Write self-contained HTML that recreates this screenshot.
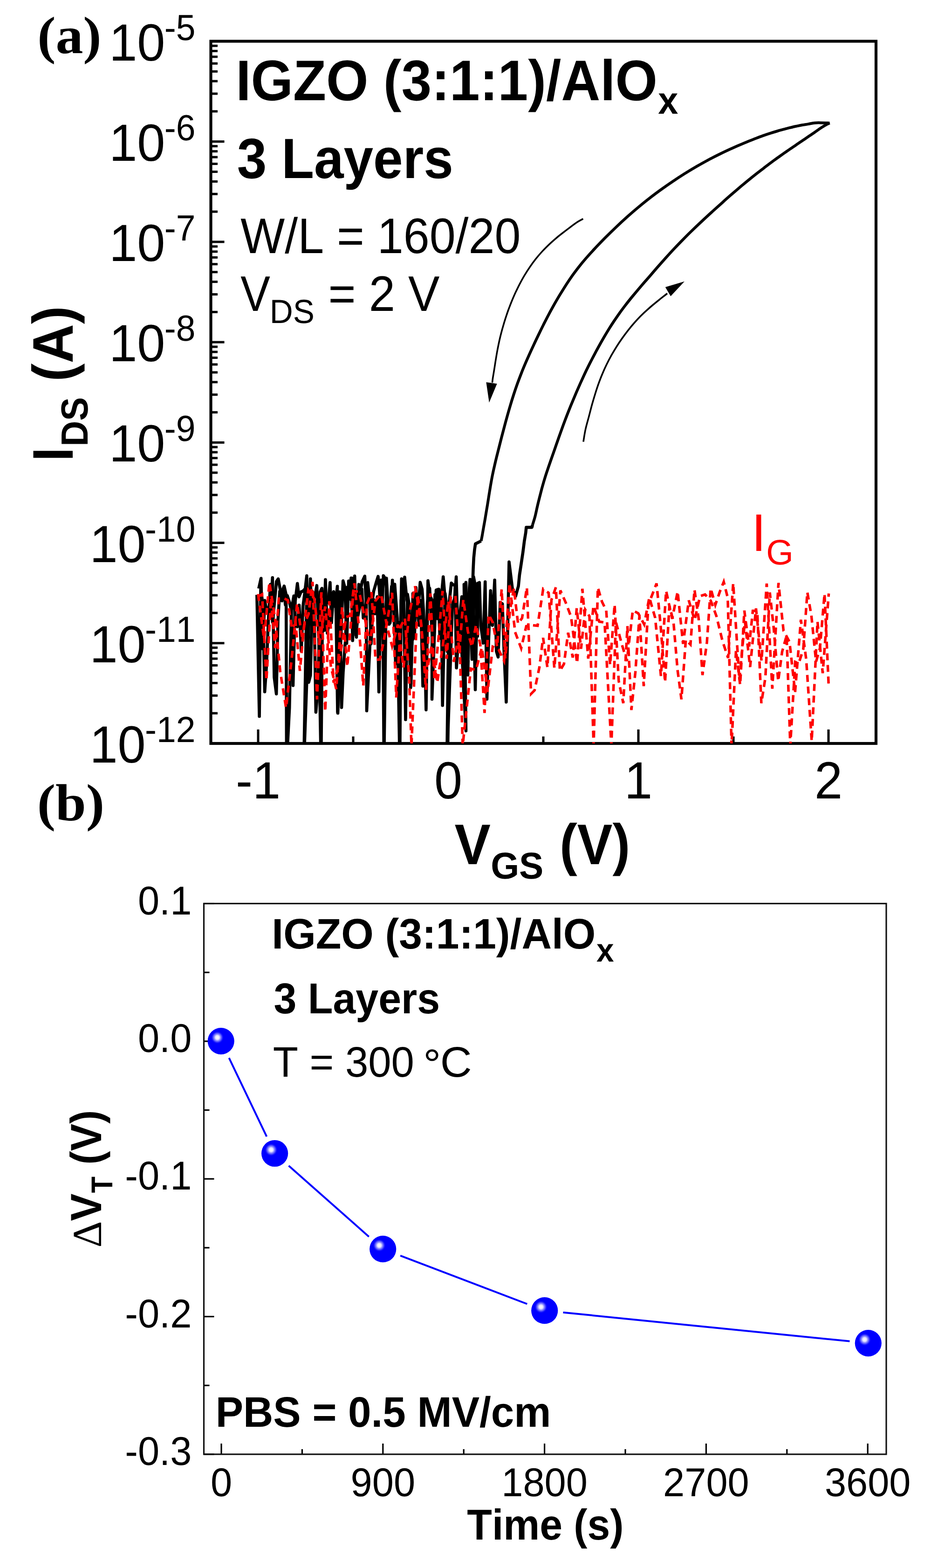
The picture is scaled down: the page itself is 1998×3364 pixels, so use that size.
<!DOCTYPE html><html><head><meta charset="utf-8"><title>IGZO/AlOx TFT transfer and PBS</title><style>html,body{margin:0;padding:0;background:#fff;overflow:hidden}svg{display:block}</style></head><body><svg width="1998" height="3364" viewBox="0 0 1998 3364" style="font-kerning:none;text-rendering:geometricPrecision"><g stroke="#000" stroke-width="5.0" stroke-linecap="butt"><line x1="452.5" y1="1595.0" x2="481.5" y2="1595.0"/><line x1="452.5" y1="1530.2" x2="467.0" y2="1530.2"/><line x1="452.5" y1="1492.3" x2="467.0" y2="1492.3"/><line x1="452.5" y1="1465.4" x2="467.0" y2="1465.4"/><line x1="452.5" y1="1444.6" x2="467.0" y2="1444.6"/><line x1="452.5" y1="1427.5" x2="467.0" y2="1427.5"/><line x1="452.5" y1="1413.1" x2="467.0" y2="1413.1"/><line x1="452.5" y1="1400.6" x2="467.0" y2="1400.6"/><line x1="452.5" y1="1389.6" x2="467.0" y2="1389.6"/><line x1="452.5" y1="1379.8" x2="481.5" y2="1379.8"/><line x1="452.5" y1="1315.0" x2="467.0" y2="1315.0"/><line x1="452.5" y1="1277.1" x2="467.0" y2="1277.1"/><line x1="452.5" y1="1250.2" x2="467.0" y2="1250.2"/><line x1="452.5" y1="1229.4" x2="467.0" y2="1229.4"/><line x1="452.5" y1="1212.3" x2="467.0" y2="1212.3"/><line x1="452.5" y1="1197.9" x2="467.0" y2="1197.9"/><line x1="452.5" y1="1185.4" x2="467.0" y2="1185.4"/><line x1="452.5" y1="1174.4" x2="467.0" y2="1174.4"/><line x1="452.5" y1="1164.6" x2="481.5" y2="1164.6"/><line x1="452.5" y1="1099.8" x2="467.0" y2="1099.8"/><line x1="452.5" y1="1061.9" x2="467.0" y2="1061.9"/><line x1="452.5" y1="1035.0" x2="467.0" y2="1035.0"/><line x1="452.5" y1="1014.1" x2="467.0" y2="1014.1"/><line x1="452.5" y1="997.1" x2="467.0" y2="997.1"/><line x1="452.5" y1="982.7" x2="467.0" y2="982.7"/><line x1="452.5" y1="970.2" x2="467.0" y2="970.2"/><line x1="452.5" y1="959.2" x2="467.0" y2="959.2"/><line x1="452.5" y1="949.4" x2="481.5" y2="949.4"/><line x1="452.5" y1="884.6" x2="467.0" y2="884.6"/><line x1="452.5" y1="846.7" x2="467.0" y2="846.7"/><line x1="452.5" y1="819.8" x2="467.0" y2="819.8"/><line x1="452.5" y1="798.9" x2="467.0" y2="798.9"/><line x1="452.5" y1="781.9" x2="467.0" y2="781.9"/><line x1="452.5" y1="767.5" x2="467.0" y2="767.5"/><line x1="452.5" y1="755.0" x2="467.0" y2="755.0"/><line x1="452.5" y1="744.0" x2="467.0" y2="744.0"/><line x1="452.5" y1="734.1" x2="481.5" y2="734.1"/><line x1="452.5" y1="669.4" x2="467.0" y2="669.4"/><line x1="452.5" y1="631.5" x2="467.0" y2="631.5"/><line x1="452.5" y1="604.6" x2="467.0" y2="604.6"/><line x1="452.5" y1="583.7" x2="467.0" y2="583.7"/><line x1="452.5" y1="566.7" x2="467.0" y2="566.7"/><line x1="452.5" y1="552.3" x2="467.0" y2="552.3"/><line x1="452.5" y1="539.8" x2="467.0" y2="539.8"/><line x1="452.5" y1="528.8" x2="467.0" y2="528.8"/><line x1="452.5" y1="518.9" x2="481.5" y2="518.9"/><line x1="452.5" y1="454.1" x2="467.0" y2="454.1"/><line x1="452.5" y1="416.2" x2="467.0" y2="416.2"/><line x1="452.5" y1="389.4" x2="467.0" y2="389.4"/><line x1="452.5" y1="368.5" x2="467.0" y2="368.5"/><line x1="452.5" y1="351.5" x2="467.0" y2="351.5"/><line x1="452.5" y1="337.1" x2="467.0" y2="337.1"/><line x1="452.5" y1="324.6" x2="467.0" y2="324.6"/><line x1="452.5" y1="313.6" x2="467.0" y2="313.6"/><line x1="452.5" y1="303.7" x2="481.5" y2="303.7"/><line x1="452.5" y1="238.9" x2="467.0" y2="238.9"/><line x1="452.5" y1="201.0" x2="467.0" y2="201.0"/><line x1="452.5" y1="174.1" x2="467.0" y2="174.1"/><line x1="452.5" y1="153.3" x2="467.0" y2="153.3"/><line x1="452.5" y1="136.2" x2="467.0" y2="136.2"/><line x1="452.5" y1="121.8" x2="467.0" y2="121.8"/><line x1="452.5" y1="109.4" x2="467.0" y2="109.4"/><line x1="452.5" y1="98.3" x2="467.0" y2="98.3"/><line x1="452.5" y1="88.5" x2="481.5" y2="88.5"/><line x1="554.0" y1="1595.0" x2="554.0" y2="1565.0"/><line x1="962.0" y1="1595.0" x2="962.0" y2="1565.0"/><line x1="1370.0" y1="1595.0" x2="1370.0" y2="1565.0"/><line x1="1778.0" y1="1595.0" x2="1778.0" y2="1565.0"/><line x1="758.0" y1="1595.0" x2="758.0" y2="1580.0"/><line x1="1166.0" y1="1595.0" x2="1166.0" y2="1580.0"/><line x1="1574.0" y1="1595.0" x2="1574.0" y2="1580.0"/></g><text transform="translate(311.10 1592.00) scale(1 1.0412)" font-family='"Liberation Sans", Arial, sans-serif' font-size="75.0">-12</text><text transform="translate(192.47 1636.00) scale(1 1.0412)" font-family='"Liberation Sans", Arial, sans-serif' font-size="108.0">10</text><text transform="translate(311.10 1376.79) scale(1 1.0412)" font-family='"Liberation Sans", Arial, sans-serif' font-size="75.0">-11</text><text transform="translate(192.47 1420.79) scale(1 1.0412)" font-family='"Liberation Sans", Arial, sans-serif' font-size="108.0">10</text><text transform="translate(311.10 1161.57) scale(1 1.0412)" font-family='"Liberation Sans", Arial, sans-serif' font-size="75.0">-10</text><text transform="translate(192.47 1205.57) scale(1 1.0412)" font-family='"Liberation Sans", Arial, sans-serif' font-size="108.0">10</text><text transform="translate(352.81 946.36) scale(1 1.0412)" font-family='"Liberation Sans", Arial, sans-serif' font-size="75.0">-9</text><text transform="translate(234.18 990.36) scale(1 1.0412)" font-family='"Liberation Sans", Arial, sans-serif' font-size="108.0">10</text><text transform="translate(352.81 731.14) scale(1 1.0412)" font-family='"Liberation Sans", Arial, sans-serif' font-size="75.0">-8</text><text transform="translate(234.18 775.14) scale(1 1.0412)" font-family='"Liberation Sans", Arial, sans-serif' font-size="108.0">10</text><text transform="translate(352.81 515.93) scale(1 1.0412)" font-family='"Liberation Sans", Arial, sans-serif' font-size="75.0">-7</text><text transform="translate(234.18 559.93) scale(1 1.0412)" font-family='"Liberation Sans", Arial, sans-serif' font-size="108.0">10</text><text transform="translate(352.81 300.71) scale(1 1.0412)" font-family='"Liberation Sans", Arial, sans-serif' font-size="75.0">-6</text><text transform="translate(234.18 344.71) scale(1 1.0412)" font-family='"Liberation Sans", Arial, sans-serif' font-size="108.0">10</text><text transform="translate(352.81 85.50) scale(1 1.0412)" font-family='"Liberation Sans", Arial, sans-serif' font-size="75.0">-5</text><text transform="translate(234.18 129.50) scale(1 1.0412)" font-family='"Liberation Sans", Arial, sans-serif' font-size="108.0">10</text><text transform="translate(505.98 1712.50) scale(1.0000 1.0412)" font-family='"Liberation Sans", Arial, sans-serif' font-weight="normal" font-size="108.00">-1</text><text transform="translate(931.97 1712.50) scale(1.0000 1.0412)" font-family='"Liberation Sans", Arial, sans-serif' font-weight="normal" font-size="108.00">0</text><text transform="translate(1339.97 1712.50) scale(1.0000 1.0412)" font-family='"Liberation Sans", Arial, sans-serif' font-weight="normal" font-size="108.00">1</text><text transform="translate(1747.97 1712.50) scale(1.0000 1.0412)" font-family='"Liberation Sans", Arial, sans-serif' font-weight="normal" font-size="108.00">2</text><rect x="452.5" y="88.5" width="1427.5" height="1506.5" fill="none" stroke="#000" stroke-width="6.2"/><text transform="translate(80.19 114.02) scale(1.0426 0.9990)" font-family='"Liberation Serif", "Times New Roman", serif' font-weight="bold" font-size="113.00">(a)</text><text transform="translate(506.21 214.50) scale(0.9858 1.0412)" font-family='"Liberation Sans", Arial, sans-serif' font-weight="bold" font-size="118.00">IGZO (3:1:1)/AlO</text><text transform="translate(1412.26 243.50) scale(0.9812 1.0412)" font-family='"Liberation Sans", Arial, sans-serif' font-weight="bold" font-size="79.00">x</text><text transform="translate(508.81 381.50) scale(0.9770 1.0412)" font-family='"Liberation Sans", Arial, sans-serif' font-weight="bold" font-size="117.00">3 Layers</text><text transform="translate(516.31 542.80) scale(0.9766 1.0412)" font-family='"Liberation Sans", Arial, sans-serif' font-weight="normal" font-size="103.00">W/L = 160/20</text><text transform="translate(516.34 666.70) scale(0.9255 1.0412)" font-family='"Liberation Sans", Arial, sans-serif' font-weight="normal" font-size="103.00">V</text><text transform="translate(578.73 693.00) scale(1.0029 1.0412)" font-family='"Liberation Sans", Arial, sans-serif' font-weight="normal" font-size="69.00">DS</text><text transform="translate(704.59 666.70) scale(0.9811 1.0412)" font-family='"Liberation Sans", Arial, sans-serif' font-weight="normal" font-size="103.00">= 2 V</text><text transform="translate(1613.05 1181.50) scale(1.0146 1.0412)" font-family='"Liberation Sans", Arial, sans-serif' font-weight="normal" font-size="109.00" fill="#ff0000">I</text><text transform="translate(1644.13 1210.50) scale(1.0316 1.0412)" font-family='"Liberation Sans", Arial, sans-serif' font-weight="normal" font-size="73.00" fill="#ff0000">G</text><text transform="translate(975.56 1853.50) scale(0.9831 1.0412)" font-family='"Liberation Sans", Arial, sans-serif' font-weight="bold" font-size="118.00">V</text><text transform="translate(1053.19 1884.50) scale(1.0171 1.0412)" font-family='"Liberation Sans", Arial, sans-serif' font-weight="bold" font-size="77.00">GS</text><text transform="translate(1200.93 1853.50) scale(0.9622 1.0412)" font-family='"Liberation Sans", Arial, sans-serif' font-weight="bold" font-size="118.00">(V)</text><g transform="rotate(-90)"><text transform="translate(-989.31 155.50) scale(0.8882 1.0412)" font-family='"Liberation Sans", Arial, sans-serif' font-weight="bold" font-size="118.00">I</text><text transform="translate(-957.61 187.50) scale(0.9730 1.0412)" font-family='"Liberation Sans", Arial, sans-serif' font-weight="bold" font-size="78.00">DS</text><text transform="translate(-818.44 155.50) scale(0.9895 1.0412)" font-family='"Liberation Sans", Arial, sans-serif' font-weight="bold" font-size="118.00">(A)</text></g><defs><clipPath id="ca"><rect x="452.5" y="88.5" width="1427.5" height="1506.5"/></clipPath></defs><g clip-path="url(#ca)"><path d="M1780.5,264.0 C1777.4,263.9 1767.1,263.4 1761.7,263.4 C1756.3,263.3 1752.7,263.2 1748.2,263.7 C1743.7,264.2 1739.2,265.3 1734.8,266.1 C1730.3,266.9 1725.8,267.5 1721.3,268.3 C1716.8,269.1 1712.3,270.1 1707.8,271.0 C1703.3,272.0 1698.8,273.1 1694.3,274.2 C1689.8,275.3 1685.4,276.5 1680.9,277.7 C1676.4,278.9 1671.9,280.2 1667.4,281.5 C1662.9,282.8 1658.4,284.2 1653.9,285.7 C1649.4,287.1 1644.9,288.6 1640.3,290.2 C1635.7,291.9 1631.1,293.5 1626.1,295.4 C1621.1,297.3 1616.0,299.2 1610.4,301.5 C1604.7,303.7 1598.8,306.2 1592.2,309.0 C1585.6,311.7 1578.4,314.8 1570.9,318.2 C1563.3,321.7 1555.2,325.4 1546.8,329.5 C1538.5,333.6 1529.7,338.0 1521.0,342.6 C1512.3,347.3 1503.3,352.3 1494.5,357.4 C1485.7,362.5 1476.8,367.9 1468.2,373.3 C1459.7,378.7 1451.3,384.2 1443.1,389.7 C1434.9,395.2 1426.9,400.8 1419.0,406.5 C1411.1,412.2 1403.5,417.8 1395.7,423.9 C1387.8,430.0 1380.0,436.2 1371.9,443.0 C1363.8,449.7 1355.5,456.8 1347.1,464.3 C1338.8,471.7 1330.1,479.7 1321.9,487.6 C1313.6,495.5 1305.2,503.7 1297.5,511.4 C1289.9,519.2 1282.4,526.9 1275.7,534.1 C1269.0,541.2 1263.0,547.9 1257.4,554.4 C1251.8,560.8 1246.9,566.7 1242.1,572.8 C1237.4,578.8 1233.2,584.4 1228.8,590.5 C1224.5,596.6 1220.3,602.8 1216.0,609.3 C1211.8,615.9 1207.5,622.7 1203.2,629.8 C1198.8,636.9 1194.5,644.3 1190.2,651.8 C1186.0,659.3 1181.7,667.0 1177.7,674.6 C1173.6,682.2 1169.7,690.0 1165.9,697.5 C1162.2,704.9 1158.6,712.3 1155.2,719.4 C1151.7,726.6 1148.5,733.4 1145.3,740.2 C1142.2,747.0 1139.2,753.4 1136.2,760.1 C1133.2,766.7 1130.3,773.1 1127.4,779.9 C1124.5,786.7 1121.6,793.6 1118.8,800.8 C1116.0,808.0 1113.1,815.5 1110.4,823.1 C1107.7,830.7 1105.0,838.6 1102.4,846.5 C1099.8,854.5 1097.3,862.6 1095.0,870.5 C1092.6,878.5 1090.3,886.6 1088.1,894.5 C1085.9,902.3 1083.8,910.1 1081.8,917.7 C1079.8,925.3 1077.8,932.7 1076.0,939.8 C1074.2,947.0 1072.4,953.9 1070.7,960.7 C1069.0,967.4 1067.3,974.0 1065.7,980.5 C1064.1,987.0 1062.6,993.3 1061.2,999.6 C1059.7,1005.9 1058.3,1012.1 1057.1,1018.3 C1055.8,1024.5 1054.7,1030.7 1053.6,1036.9 C1052.5,1043.1 1051.5,1049.3 1050.5,1055.6 C1049.4,1061.9 1048.5,1068.2 1047.5,1074.5 C1046.5,1080.8 1045.5,1087.1 1044.4,1093.3 C1043.4,1099.5 1042.3,1105.8 1041.3,1111.9 C1040.3,1117.9 1039.3,1123.3 1038.2,1129.5 C1037.1,1135.6 1035.8,1143.3 1034.9,1148.5 C1034.0,1153.7 1032.9,1158.6 1032.5,1160.6" fill="none" stroke="#000" stroke-width="6.0" stroke-linejoin="round"/><polyline points="1032.5,1160.6 1020.3,1166.7 1018.5,1178.8 1016.7,1197.0 1015.5,1221.3 1014.3,1257.7 1014.3,1273.5 1025.2,1275.9 1024.9,1365.1 1020.4,1258.8 1016.3,1237.4 1012.9,1414.5 1008.8,1243.0 1004.4,1296.6 1000.8,1298.5 995.9,1253.8 1000.0,1568.0 989.0,1358.2 984.6,1354.8 979.6,1433.0 976.5,1255.4 972.3,1254.5 968.6,1250.9 964.1,1291.9 960.3,1398.0 955.2,1284.2 951.2,1237.5 947.9,1272.2 944.2,1369.5 939.7,1264.7 936.0,1265.8 927.0,1500.0 927.5,1288.4 922.9,1278.5 918.4,1245.9 914.4,1522.9 910.4,1339.1 907.5,1471.9 902.9,1288.3 899.3,1341.5 894.4,1297.3 890.0,1323.2 886.1,1273.3 882.0,1467.0 878.1,1297.0 874.5,1275.1 870.4,1543.9 866.5,1286.9 861.8,1241.7 858.1,1410.8 853.4,1334.0 849.0,1424.2 845.0,1302.6 842.2,1244.7 837.1,1336.4 832.8,1299.6 829.3,1240.6 824.0,1640.0 821.7,1302.3 817.8,1244.5 813.1,1484.5 809.7,1280.3 804.5,1316.7 801.2,1285.6 796.4,1381.2 793.4,1287.4 789.1,1249.7 784.5,1302.9 779.6,1325.9 776.6,1264.1 772.9,1297.1 767.9,1322.7 763.6,1362.4 760.6,1266.2 756.2,1240.5 752.1,1285.8 748.2,1246.6 744.1,1380.1 740.4,1261.1 736.2,1246.1 730.8,1390.5 725.0,1530.0 724.0,1257.8 719.3,1301.4 715.9,1269.2 711.7,1291.7 707.5,1325.2 702.5,1358.6 698.4,1243.5 695.4,1345.8 690.8,1262.3 687.2,1269.6 682.5,1470.4 677.9,1527.9 673.8,1282.1 670.3,1351.8 666.2,1241.9 652.0,1640.0 658.4,1271.5 654.3,1263.8 650.0,1268.3 646.1,1269.7 641.6,1280.4 638.2,1251.9 633.6,1289.6 628.9,1470.7 624.7,1307.3 621.6,1293.3 616.6,1277.9 612.5,1297.9 608.6,1260.9 604.9,1289.1 600.3,1268.5 596.5,1331.9 593.1,1488.6 588.5,1453.0 584.8,1239.2 581.3,1298.2 575.8,1304.0 572.8,1313.0 568.1,1288.2 563.8,1391.9 560.2,1240.8 555.3,1262.6" fill="none" stroke="#000" stroke-width="6.6" stroke-linejoin="round"/><polyline points="551.3,1276.2 556.6,1537.0 559.5,1264.5 564.1,1295.2 568.1,1484.3 572.1,1425.8 575.9,1331.2 580.4,1253.8 584.9,1334.7 588.2,1301.5 593.4,1247.3 597.1,1241.9 601.8,1267.2 605.9,1267.9 609.8,1257.3 614.1,1276.3 615.0,1640.0 621.2,1518.5 625.5,1308.4 630.6,1278.6 633.8,1329.3 638.2,1344.6 642.0,1298.2 646.6,1396.6 650.3,1300.1 654.5,1267.7 658.3,1235.3 662.5,1463.9 666.3,1448.7 670.7,1269.4 675.6,1281.5 679.9,1256.2 684.2,1372.4 689.0,1640.0 692.3,1282.7 696.3,1352.4 699.9,1287.3 704.5,1293.0 708.4,1249.9 711.4,1336.1 715.7,1271.3 720.6,1279.2 724.5,1527.6 729.0,1269.8 733.0,1517.9 736.4,1442.5 741.3,1374.0 745.8,1259.9 749.1,1284.9 753.5,1240.0 756.8,1374.3 761.2,1235.8 764.9,1367.2 770.0,1253.9 773.8,1265.3 777.3,1248.0 782.8,1236.1 786.1,1297.9 787.0,1525.0 795.1,1358.1 797.9,1296.9 802.0,1268.1 807.3,1250.0 811.4,1236.6 814.1,1264.3 818.7,1334.4 822.8,1235.1 827.6,1242.8 832.0,1293.6 835.1,1339.3 840.3,1258.4 843.5,1304.8 847.1,1253.6 852.6,1326.6 858.0,1640.0 860.8,1287.8 864.4,1296.1 868.4,1238.2 872.8,1283.9 876.7,1304.9 881.3,1475.5 884.5,1373.9 889.6,1365.6 892.6,1260.6 896.5,1320.8 901.8,1249.3 905.9,1264.2 908.8,1309.1 913.2,1438.3 917.2,1292.7 922.1,1261.9 925.8,1333.8 929.2,1396.8 933.4,1275.9 938.7,1327.1 941.8,1264.0 947.1,1291.7 949.7,1513.5 955.2,1273.2 957.9,1295.2 963.3,1298.2 959.0,1640.0 971.0,1296.2 975.4,1284.7 979.1,1237.6 983.8,1392.0 987.6,1312.8 991.1,1280.4 995.0,1483.9 999.9,1249.5 1004.0,1448.2 1007.9,1276.9 1012.7,1250.3 1015.8,1280.8 1020.0,1479.7 1024.7,1251.7 1028.8,1249.7 1031.9,1342.1 1037.0,1379.7 1041.2,1248.3 1045.0,1500.0 1048.6,1376.0 1052.8,1267.2 1056.7,1341.7 1061.6,1244.5 1065.3,1397.4 1069.0,1409.6 1073.5,1292.4 1078.2,1295.6 1081.6,1393.6 1086.4,1506.3 1092.5,1205.5 1099.5,1262.0 1106.4,1279.5 1112.5,1257.7 1114.9,1233.4 1118.6,1209.2 1122.2,1184.9 1125.3,1160.6 1128.3,1142.5 1129.4,1131.4 1141.5,1131.4 1142.9,1126.0" fill="none" stroke="#000" stroke-width="6.6" stroke-linejoin="round"/><path d="M1142.9,1126.0 C1143.8,1123.1 1146.5,1114.9 1148.2,1108.5 C1149.9,1102.1 1151.3,1094.6 1152.9,1087.8 C1154.4,1081.1 1156.0,1074.6 1157.7,1068.0 C1159.4,1061.3 1161.1,1054.5 1162.9,1047.7 C1164.8,1040.9 1166.7,1034.1 1168.8,1027.3 C1170.9,1020.4 1173.2,1013.4 1175.6,1006.5 C1177.9,999.5 1180.4,992.5 1182.8,985.5 C1185.3,978.5 1187.8,971.4 1190.2,964.4 C1192.7,957.4 1195.1,950.3 1197.6,943.3 C1200.1,936.3 1202.5,929.2 1205.1,922.2 C1207.6,915.2 1210.2,908.2 1212.8,901.3 C1215.4,894.3 1218.1,887.4 1220.8,880.6 C1223.5,873.8 1226.3,867.0 1229.1,860.4 C1231.9,853.7 1234.7,847.1 1237.4,840.6 C1240.2,834.2 1243.0,827.8 1245.8,821.6 C1248.6,815.4 1251.4,809.4 1254.1,803.4 C1256.9,797.5 1259.7,791.8 1262.5,786.2 C1265.3,780.5 1268.2,775.0 1271.0,769.5 C1273.9,764.0 1276.7,758.6 1279.6,753.2 C1282.5,747.8 1285.5,742.4 1288.5,737.0 C1291.5,731.6 1294.6,726.3 1297.7,720.9 C1300.9,715.5 1304.2,710.1 1307.5,704.7 C1310.9,699.3 1314.4,693.9 1318.0,688.5 C1321.6,683.1 1325.3,677.8 1329.1,672.4 C1332.9,667.1 1336.9,661.8 1340.9,656.5 C1344.9,651.3 1349.0,646.1 1353.1,641.0 C1357.3,635.9 1361.4,631.0 1365.7,625.8 C1370.1,620.7 1374.4,615.7 1379.0,610.2 C1383.7,604.8 1388.4,599.3 1393.6,593.4 C1398.7,587.4 1404.2,581.1 1409.9,574.5 C1415.7,568.0 1421.8,561.0 1428.1,554.0 C1434.4,547.1 1441.0,539.8 1447.6,532.8 C1454.1,525.9 1460.9,518.9 1467.6,512.1 C1474.3,505.3 1481.0,498.7 1487.8,492.2 C1494.6,485.6 1501.4,479.2 1508.3,472.8 C1515.2,466.3 1522.2,459.9 1529.3,453.4 C1536.5,446.9 1543.8,440.3 1551.0,433.9 C1558.1,427.5 1565.5,421.0 1572.4,414.9 C1579.4,408.9 1586.2,403.1 1592.5,397.8 C1598.9,392.5 1604.8,387.6 1610.4,383.1 C1616.0,378.6 1621.1,374.6 1626.1,370.7 C1631.1,366.8 1635.7,363.3 1640.3,359.7 C1644.9,356.2 1649.4,352.8 1653.9,349.4 C1658.4,346.1 1662.9,342.8 1667.4,339.5 C1671.9,336.3 1676.4,333.1 1680.9,329.9 C1685.4,326.8 1689.8,323.7 1694.3,320.6 C1698.8,317.5 1703.3,314.4 1707.8,311.4 C1712.3,308.3 1716.8,305.3 1721.3,302.3 C1725.8,299.2 1730.3,296.2 1734.8,293.1 C1739.3,290.1 1743.7,287.1 1748.2,284.0 C1752.7,280.9 1757.2,277.4 1761.7,274.5 C1766.2,271.6 1772.1,268.1 1775.2,266.4 C1778.3,264.6 1779.6,264.4 1780.5,264.0" fill="none" stroke="#000" stroke-width="6.0" stroke-linejoin="round"/><polyline points="553.8,1280.2 562.5,1275.1 571.8,1459.9 581.7,1282.6 590.5,1390.4 598.3,1284.2 608.7,1283.3 617.6,1287.8 626.5,1349.3 634.3,1337.2 643.6,1439.3 652.7,1340.9 662.2,1317.5 670.7,1248.4 680.4,1500.7 689.7,1270.7 698.0,1526.3 706.8,1289.7 716.0,1464.6 725.5,1431.4 734.4,1379.4 742.7,1323.9 751.3,1321.0 760.6,1251.3 770.1,1343.1 779.6,1471.2 787.3,1296.4 797.3,1270.7 805.9,1415.8 815.4,1414.8 823.4,1375.8 833.1,1319.6 841.5,1271.8 850.4,1496.3 859.7,1344.3 869.0,1326.4 878.2,1458.2 883.0,1600.0 896.7,1276.5 904.4,1342.4 914.1,1479.8 923.6,1273.2 932.4,1458.5 941.2,1367.9 949.8,1267.8 958.6,1413.4 967.5,1279.7 977.3,1278.3 985.5,1402.5 994.3,1286.3 1004.1,1354.6 1012.5,1388.0 1021.7,1340.5 1030.7,1382.5 1039.9,1529.7 1048.8,1318.6 1057.5,1335.5 1066.9,1387.7 1076.6,1263.8 1084.2,1412.3 1094.7,1308.4 1102.8,1262.2 1111.7,1337.8 1120.4,1326.1 1130.7,1260.3 1139.7,1488.6 1147.3,1481.0 1157.6,1431.6 1165.5,1368.3 1174.8,1432.1 1183.5,1286.8 1193.0,1259.9 1201.6,1439.2 1210.3,1424.5 1219.3,1357.4 1229.2,1410.8 1237.7,1304.5 1246.9,1391.9 1255.9,1308.0 1265.0,1322.1 1274.0,1600.0 1283.0,1260.5 1291.9,1290.9 1301.0,1309.7 1309.3,1426.7 1319.0,1296.9 1327.8,1460.9 1337.6,1508.6 1346.5,1343.2 1355.0,1523.3 1363.5,1442.7 1372.3,1321.3 1381.5,1472.0 1391.5,1296.7 1400.7,1273.5 1409.0,1251.6 1417.5,1338.8 1427.3,1463.5 1436.5,1299.5 1445.2,1332.7 1454.1,1437.7 1462.4,1500.4 1471.8,1372.8 1481.8,1382.8 1490.4,1265.1 1499.4,1327.5 1507.6,1448.3 1517.1,1377.8 1525.2,1262.5 1535.2,1297.7 1544.6,1270.0 1553.2,1248.3 1561.8,1282.6 1570.0,1600.0 1579.5,1394.9 1588.4,1469.5 1597.4,1309.9 1607.6,1387.2 1615.6,1310.6 1625.1,1310.6 1633.9,1508.7 1642.6,1453.5 1652.1,1271.1 1660.3,1346.3 1670.1,1461.4 1678.5,1398.2 1688.2,1363.3 1696.0,1600.0 1706.6,1420.1 1714.2,1423.2 1723.9,1392.5 1732.6,1270.5 1741.3,1320.7 1751.3,1419.7 1759.6,1390.8 1769.5,1273.7 1778.2,1467.4" fill="none" stroke="#ff0000" stroke-width="5.5" stroke-dasharray="15 10"/><polyline points="1778.6,1273.3 1765.6,1444.2 1754.4,1333.4 1742.0,1590.0 1730.2,1414.8 1718.8,1329.5 1706.3,1485.0 1694.4,1377.3 1681.5,1353.2 1670.7,1250.6 1657.4,1477.6 1645.4,1252.0 1634.3,1418.2 1622.4,1305.3 1609.8,1431.1 1598.6,1332.2 1586.7,1458.6 1573.5,1251.3 1562.6,1411.6 1550.5,1375.2 1537.4,1321.5 1525.5,1289.1 1513.2,1275.4 1502.3,1279.1 1490.7,1330.6 1478.2,1288.1 1465.9,1381.4 1454.3,1269.0 1442.6,1327.5 1429.5,1267.6 1418.4,1450.3 1406.0,1325.3 1393.5,1281.7 1382.5,1339.6 1369.7,1315.8 1358.0,1309.7 1345.3,1418.2 1334.5,1382.3 1321.8,1334.4 1312.0,1600.0 1297.5,1335.4 1286.0,1333.7 1273.6,1299.6 1262.4,1412.9 1249.8,1263.1 1238.5,1422.9 1225.5,1323.0 1214.1,1292.8 1202.6,1266.6 1189.7,1433.6 1177.4,1272.0 1165.7,1263.6 1153.7,1342.6 1142.4,1341.4 1129.4,1343.4 1118.5,1390.7 1105.5,1356.2 1093.5,1251.3 1081.8,1417.8 1070.0,1393.6 1057.4,1387.5 1046.4,1484.4 1034.1,1389.2 1021.6,1437.4 1010.4,1434.5 993.0,1600.0 985.7,1355.3 973.9,1419.9 962.2,1289.1 949.9,1388.0 938.3,1464.6 926.2,1385.8 914.0,1453.1 902.1,1323.8 890.7,1257.8 878.1,1317.6 866.0,1432.0 854.0,1340.0 841.5,1386.2 830.4,1343.5 817.8,1274.6 805.8,1288.6 793.9,1382.0 781.6,1319.9 770.7,1269.2 758.5,1268.6 745.4,1430.0 734.2,1302.5 721.6,1478.3 710.2,1430.7 697.9,1301.2 685.4,1382.2 674.6,1284.5 661.6,1266.0 649.2,1374.5 637.6,1294.5 625.9,1414.2 613.8,1518.4 601.3,1440.1 590.5,1328.6 578.2,1249.1 566.7,1371.3 553.4,1270.7" fill="none" stroke="#ff0000" stroke-width="5.5" stroke-dasharray="15 10" stroke-dashoffset="8"/></g><path d="M1251.4,469.4 C1248.7,471.0 1241.2,474.8 1235.2,478.9 C1229.2,483.0 1221.6,489.0 1215.3,493.9 C1209.0,498.7 1203.1,503.1 1197.1,508.0 C1191.2,512.8 1185.4,518.0 1179.9,523.1 C1174.4,528.3 1169.1,533.5 1164.1,538.9 C1159.1,544.3 1154.4,549.8 1149.9,555.4 C1145.4,561.1 1141.2,566.8 1137.2,572.7 C1133.1,578.6 1129.3,584.6 1125.7,590.7 C1122.0,596.8 1118.6,603.1 1115.3,609.3 C1112.1,615.4 1109.1,621.7 1106.2,627.8 C1103.4,633.9 1100.8,640.0 1098.3,646.0 C1095.8,652.1 1093.6,658.0 1091.3,664.0 C1089.1,670.0 1087.1,676.1 1085.0,682.3 C1083.0,688.5 1081.1,694.8 1079.3,701.2 C1077.4,707.5 1075.7,714.1 1074.1,720.5 C1072.5,726.9 1071.1,733.4 1069.8,739.7 C1068.5,745.9 1067.3,752.1 1066.2,758.2 C1065.2,764.3 1064.2,770.4 1063.2,776.2 C1062.3,782.0 1061.6,787.0 1060.6,793.0 C1059.7,798.9 1058.2,807.3 1057.5,812.0 C1056.8,816.7 1056.7,819.5 1056.5,821.0" fill="none" stroke="#000" stroke-width="3.6"/><path d="M1251.9,947.8 C1252.7,943.3 1254.6,929.8 1256.6,920.9 C1258.6,912.0 1261.3,903.1 1263.6,894.4 C1265.9,885.7 1268.0,877.1 1270.3,868.8 C1272.6,860.5 1275.0,852.4 1277.4,844.7 C1279.8,837.0 1282.2,829.6 1284.8,822.4 C1287.4,815.3 1290.0,808.5 1292.9,801.7 C1295.7,795.0 1298.6,788.5 1301.8,782.0 C1305.0,775.5 1308.4,769.0 1311.9,762.7 C1315.5,756.3 1319.3,749.9 1323.2,743.7 C1327.1,737.5 1331.3,731.3 1335.5,725.4 C1339.7,719.4 1344.1,713.6 1348.4,708.1 C1352.8,702.5 1357.2,697.2 1361.6,692.2 C1366.1,687.2 1370.5,682.5 1374.9,678.0 C1379.4,673.5 1383.7,669.4 1388.3,665.3 C1392.8,661.3 1397.6,657.2 1402.0,653.5 C1406.5,649.8 1410.0,647.0 1415.0,643.0 C1420.0,639.0 1429.2,631.8 1432.0,629.5" fill="none" stroke="#000" stroke-width="3.6"/><polygon points="1043.4,819.9 1066.6,823.2 1049.8,863.7" fill="#000"/><polygon points="1427.8,615.9 1439.3,635.4 1469,603.7" fill="#000"/><g stroke="#000" stroke-width="3.2"><line x1="437.5" y1="1938.5" x2="459.5" y2="1938.5"/><line x1="437.5" y1="2086.2" x2="449.5" y2="2086.2"/><line x1="437.5" y1="2233.9" x2="459.5" y2="2233.9"/><line x1="437.5" y1="2381.6" x2="449.5" y2="2381.6"/><line x1="437.5" y1="2529.2" x2="459.5" y2="2529.2"/><line x1="437.5" y1="2676.9" x2="449.5" y2="2676.9"/><line x1="437.5" y1="2824.6" x2="459.5" y2="2824.6"/><line x1="437.5" y1="2972.3" x2="449.5" y2="2972.3"/><line x1="437.5" y1="3120.0" x2="459.5" y2="3120.0"/><line x1="475.0" y1="3120.0" x2="475.0" y2="3097.0"/><line x1="821.8" y1="3120.0" x2="821.8" y2="3097.0"/><line x1="1168.6" y1="3120.0" x2="1168.6" y2="3097.0"/><line x1="1515.4" y1="3120.0" x2="1515.4" y2="3097.0"/><line x1="1862.2" y1="3120.0" x2="1862.2" y2="3097.0"/><line x1="648.4" y1="3120.0" x2="648.4" y2="3109.0"/><line x1="995.2" y1="3120.0" x2="995.2" y2="3109.0"/><line x1="1342.0" y1="3120.0" x2="1342.0" y2="3109.0"/><line x1="1688.8" y1="3120.0" x2="1688.8" y2="3109.0"/></g><rect x="437.5" y="1938.5" width="1464.5" height="1181.5" fill="none" stroke="#111" stroke-width="3.2"/><text transform="translate(295.92 1961.50) scale(1 1.0412)" font-family='"Liberation Sans", Arial, sans-serif' font-size="83">0.1</text><text transform="translate(295.92 2256.88) scale(1 1.0412)" font-family='"Liberation Sans", Arial, sans-serif' font-size="83">0.0</text><text transform="translate(268.28 2552.25) scale(1 1.0412)" font-family='"Liberation Sans", Arial, sans-serif' font-size="83">-0.1</text><text transform="translate(268.28 2847.62) scale(1 1.0412)" font-family='"Liberation Sans", Arial, sans-serif' font-size="83">-0.2</text><text transform="translate(268.28 3143.00) scale(1 1.0412)" font-family='"Liberation Sans", Arial, sans-serif' font-size="83">-0.3</text><text transform="translate(451.92 3209.50) scale(1.0000 1.0412)" font-family='"Liberation Sans", Arial, sans-serif' font-weight="normal" font-size="83.00">0</text><text transform="translate(752.56 3209.50) scale(1.0000 1.0412)" font-family='"Liberation Sans", Arial, sans-serif' font-weight="normal" font-size="83.00">900</text><text transform="translate(1076.28 3209.50) scale(1.0000 1.0412)" font-family='"Liberation Sans", Arial, sans-serif' font-weight="normal" font-size="83.00">1800</text><text transform="translate(1423.08 3209.50) scale(1.0000 1.0412)" font-family='"Liberation Sans", Arial, sans-serif' font-weight="normal" font-size="83.00">2700</text><text transform="translate(1769.88 3209.50) scale(1.0000 1.0412)" font-family='"Liberation Sans", Arial, sans-serif' font-weight="normal" font-size="83.00">3600</text><text transform="translate(79.78 1759.96) scale(1.0448 0.9932)" font-family='"Liberation Serif", "Times New Roman", serif' font-weight="bold" font-size="113.00">(b)</text><text transform="translate(583.31 2034.80) scale(1.0153 1.0412)" font-family='"Liberation Sans", Arial, sans-serif' font-weight="bold" font-size="88.00">IGZO (3:1:1)/AlO</text><text transform="translate(1279.96 2063.00) scale(1.0896 1.1450)" font-family='"Liberation Sans", Arial, sans-serif' font-weight="bold" font-size="62.00">x</text><text transform="translate(587.42 2174.30) scale(0.9876 1.0412)" font-family='"Liberation Sans", Arial, sans-serif' font-weight="bold" font-size="89.00">3 Layers</text><text transform="translate(585.79 2309.80) scale(1.0074 1.0412)" font-family='"Liberation Sans", Arial, sans-serif' font-weight="normal" font-size="88.00">T = 300</text><text transform="translate(908.22 2314.32) scale(1.3590 1.2821)" font-family='"Liberation Sans", Arial, sans-serif' font-weight="normal" font-size="70.00">°</text><text transform="translate(944.70 2309.80) scale(1.0673 1.0412)" font-family='"Liberation Sans", Arial, sans-serif' font-weight="normal" font-size="88.00">C</text><text transform="translate(462.63 3060.70) scale(1.0115 1.0412)" font-family='"Liberation Sans", Arial, sans-serif' font-weight="bold" font-size="88.00">PBS = 0.5 MV/cm</text><text transform="translate(1002.31 3302.50) scale(0.9853 1.0412)" font-family='"Liberation Sans", Arial, sans-serif' font-weight="bold" font-size="89.00">Time (s)</text><g transform="rotate(-90)"><text transform="translate(-2676.41 216.60) scale(1.1033 1.1090)" font-family='"Liberation Serif", "Times New Roman", serif' font-weight="normal" font-size="80.00">Δ</text><text transform="translate(-2619.44 216.60) scale(0.9812 1.0412)" font-family='"Liberation Sans", Arial, sans-serif' font-weight="bold" font-size="90.00">V</text><text transform="translate(-2559.40 240.50) scale(0.9370 1.0412)" font-family='"Liberation Sans", Arial, sans-serif' font-weight="bold" font-size="62.00">T</text><text transform="translate(-2498.38 216.60) scale(0.9730 1.0412)" font-family='"Liberation Sans", Arial, sans-serif' font-weight="bold" font-size="90.00">(V)</text></g><g stroke="#0000ff" stroke-width="4"><line x1="491.5" y1="2269.7" x2="572.3" y2="2438.4"/><line x1="619.6" y1="2501.0" x2="791.7" y2="2653.2"/><line x1="859.1" y1="2693.9" x2="1131.3" y2="2797.5"/><line x1="1208.5" y1="2815.7" x2="1823.5" y2="2877.6"/></g><defs><radialGradient id="hl" cx="50%" cy="50%" r="50%"><stop offset="0" stop-color="#ffffff" stop-opacity="1"/><stop offset="0.3" stop-color="#f0f0ff" stop-opacity="0.95"/><stop offset="0.65" stop-color="#9090ff" stop-opacity="0.6"/><stop offset="1" stop-color="#0000ff" stop-opacity="0"/></radialGradient></defs><circle cx="474.2" cy="2233.6" r="28.6" fill="#0000ff"/><circle cx="466.5" cy="2225.8" r="14" fill="url(#hl)"/><circle cx="589.6" cy="2474.5" r="28.6" fill="#0000ff"/><circle cx="581.9" cy="2466.7" r="14" fill="url(#hl)"/><circle cx="821.7" cy="2679.7" r="28.6" fill="#0000ff"/><circle cx="814.0" cy="2671.9" r="14" fill="url(#hl)"/><circle cx="1168.7" cy="2811.7" r="28.6" fill="#0000ff"/><circle cx="1161.0" cy="2803.9" r="14" fill="url(#hl)"/><circle cx="1863.3" cy="2881.6" r="28.6" fill="#0000ff"/><circle cx="1855.6" cy="2873.8" r="14" fill="url(#hl)"/></svg></body></html>
